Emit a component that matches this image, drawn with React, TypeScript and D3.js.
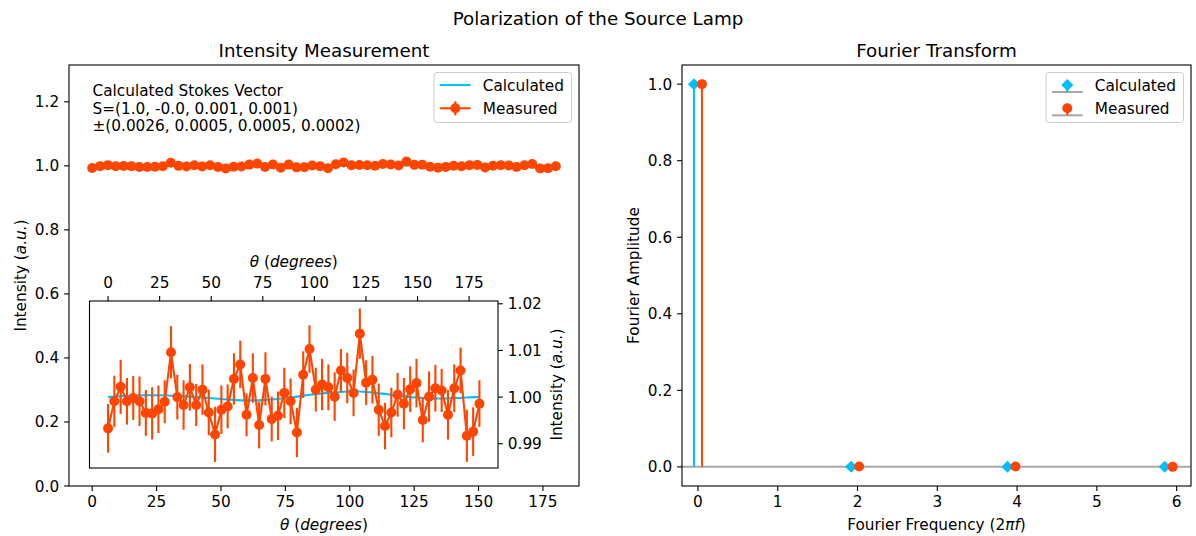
import React from 'react';
import * as d3 from 'd3';

const thetaDeg = [
  0, 3.05, 6.1, 9.15, 12.2, 15.25, 18.31, 21.36, 24.41, 27.46,
  30.51, 33.56, 36.61, 39.66, 42.71, 45.76, 48.81, 51.86, 54.92, 57.97,
  61.02, 64.07, 67.12, 70.17, 73.22, 76.27, 79.32, 82.37, 85.42, 88.47,
  91.53, 94.58, 97.63, 100.68, 103.73, 106.78, 109.83, 112.88, 115.93, 118.98,
  122.03, 125.08, 128.14, 131.19, 134.24, 137.29, 140.34, 143.39, 146.44, 149.49,
  152.54, 155.59, 158.64, 161.69, 164.75, 167.8, 170.85, 173.9, 176.95, 180.0,
];
const measured = [
  0.9933, 0.9991, 1.0022, 0.9991, 0.9998, 0.9991, 0.9966, 0.9965, 0.9974, 0.999,
  1.0096, 1.0, 0.9983, 1.0021, 0.9983, 1.0016, 0.9967, 0.992, 0.9973, 0.998,
  1.0039, 1.007, 0.9962, 1.0041, 0.994, 1.0039, 0.9953, 0.996, 1.0009, 0.9991,
  0.9924, 1.0048, 1.0103, 1.0016, 1.0027, 1.0021, 1.0001, 1.0057, 1.0041, 1.0009,
  1.0136, 1.0031, 1.0037, 0.9973, 0.9938, 0.9967, 1.0005, 0.9986, 1.0017, 1.003,
  0.9951, 1.0001, 1.0019, 1.0014, 0.9962, 1.0019, 1.0057, 0.9917, 0.9926, 0.9986,
];
const measuredErr = [
  0.0052, 0.0055, 0.0058, 0.005, 0.0047, 0.0053, 0.0049, 0.0056, 0.0051, 0.0046,
  0.0056, 0.0048, 0.0053, 0.005, 0.0045, 0.0054, 0.0049, 0.0059, 0.0052, 0.0047,
  0.0055, 0.0051, 0.0046, 0.0053, 0.005, 0.0057, 0.0048, 0.0052, 0.0054, 0.0049,
  0.0053, 0.005, 0.0051, 0.0047, 0.0055, 0.0049, 0.0052, 0.0046, 0.0054, 0.005,
  0.0054, 0.0048, 0.0051, 0.0056, 0.005, 0.0053, 0.0047, 0.0055, 0.0049, 0.0052,
  0.0048, 0.0054, 0.005, 0.0046, 0.0053, 0.0051, 0.0049, 0.0056, 0.0052, 0.005,
];
const calculated = [
  1.0, 1.0001, 1.0002, 1.0003, 1.0003, 1.0004, 1.0004, 1.0004, 1.0004, 1.0004,
  1.0003, 1.0003, 1.0002, 1.0001, 1.0, 0.9999, 0.9998, 0.9997, 0.9996, 0.9995,
  0.9994, 0.9993, 0.9993, 0.9993, 0.9993, 0.9994, 0.9995, 0.9996, 0.9998, 0.9999,
  1.0001, 1.0003, 1.0005, 1.0006, 1.0008, 1.0009, 1.001, 1.0011, 1.0012, 1.0012,
  1.0012, 1.0011, 1.001, 1.0008, 1.0007, 1.0005, 1.0003, 1.0002, 1.0, 0.9999,
  0.9998, 0.9997, 0.9997, 0.9997, 0.9997, 0.9998, 0.9998, 0.9999, 1.0, 1.0,
];
const mainXTicks = [0, 25, 50, 75, 100, 125, 150, 175];
const mainYTicks = [0, 0.2, 0.4, 0.6, 0.8, 1.0, 1.2];
const insetYTicks = [0.99, 1.0, 1.01, 1.02];
const fourierCalcFreq = [-0.05, 1.92, 3.88, 5.85];
const fourierCalcAmp = [1.0, 0.0, 0.0, 0.0];
const fourierMeasFreq = [0.05, 2.02, 3.98, 5.95];
const fourierMeasAmp = [1.0, 0.001, 0.001, 0.0];
const fourierXTicks = [0, 1, 2, 3, 4, 5, 6];
const fourierYTicks = [0, 0.2, 0.4, 0.6, 0.8, 1.0];
const stokesLines = [
  'Calculated Stokes Vector',
  'S=(1.0, -0.0, 0.001, 0.001)',
  '±(0.0026, 0.0005, 0.0005, 0.0002)',
];
const legendLabels = ['Calculated', 'Measured'];

const FONT = "'DejaVu Sans', 'Liberation Sans', sans-serif";
const FS = 15.3;
const TFS = 18.3;
const ORANGE = '#FF4500';
const BLUE = '#00BFFF';
const TICK = 4.9;
const PAD = 4.9;

function Legend({ right, top, kind }: { right: number; top: number; kind: 'line' | 'stem' }) {
  const w = 137.5;
  const h = 50;
  const left = right - w;
  const hx0 = left + 6;
  const hx1 = hx0 + 30.6;
  const hc = (hx0 + hx1) / 2;
  const rows = [top + 12.5, top + 35.8];
  return (
    <g>
      <rect x={left} y={top} width={w} height={h} rx={3} fill="white" fillOpacity={0.8} stroke="#cccccc" strokeWidth={1} />
      {kind === 'line' ? (
        <g>
          <line x1={hx0} x2={hx1} y1={rows[0]} y2={rows[0]} stroke={BLUE} strokeWidth={2.1} />
          <line x1={hx0} x2={hx1} y1={rows[1]} y2={rows[1]} stroke={ORANGE} strokeWidth={2.1} />
          <line x1={hc} x2={hc} y1={rows[1] - 7} y2={rows[1] + 7} stroke={ORANGE} strokeWidth={2.1} />
          <circle cx={hc} cy={rows[1]} r={5} fill={ORANGE} />
        </g>
      ) : (
        <g>
          <line x1={hx0} x2={hx1} y1={rows[0] + 7} y2={rows[0] + 7} stroke="#a8a8a8" strokeWidth={2} />
          <line x1={hc} x2={hc} y1={rows[0] + 7} y2={rows[0]} stroke={BLUE} strokeWidth={2} />
          <path d={`M${hc},${rows[0] - 6}L${hc + 6},${rows[0]}L${hc},${rows[0] + 6}L${hc - 6},${rows[0]}Z`} fill={BLUE} />
          <line x1={hx0} x2={hx1} y1={rows[1] + 7} y2={rows[1] + 7} stroke="#a8a8a8" strokeWidth={2} />
          <line x1={hc} x2={hc} y1={rows[1] + 7} y2={rows[1]} stroke={ORANGE} strokeWidth={2} />
          <circle cx={hc} cy={rows[1]} r={5} fill={ORANGE} />
        </g>
      )}
      {legendLabels.map((l, i) => (
        <text key={l} x={hx1 + 12.2} y={rows[i]} dy="0.36em" fontSize={FS} fontFamily={FONT} fill="#000">{l}</text>
      ))}
    </g>
  );
}

export default function App() {
  const mx = d3.scaleLinear().domain([-9, 189]).range([69, 579]);
  const my = d3.scaleLinear().domain([0, 1.315]).range([486, 65]);
  const ix = d3.scaleLinear().domain([-9, 189]).range([89.5, 498]);
  const iy = d3.scaleLinear().domain([0.9848, 1.0206]).range([468, 301]);
  const fx = d3.scaleLinear().domain([-0.2, 6.18]).range([682, 1191]);
  const fy = d3.scaleLinear().domain([-0.05, 1.05]).range([486, 65]);

  const mainLine = (vals: number[]) =>
    d3.line<number>().x((_, i) => mx(thetaDeg[i])).y((d) => my(d))(vals) || '';
  const insetLine = (vals: number[]) =>
    d3.line<number>().x((_, i) => ix(thetaDeg[i])).y((d) => iy(d))(vals) || '';

  const f1 = d3.format('.1f');
  const f2 = d3.format('.2f');
  const [mL, mR] = mx.range();
  const [mB, mT] = my.range();
  const [iL, iR] = ix.range();
  const [iB, iT] = iy.range();
  const [fL, fR] = fx.range();
  const [fB, fT] = fy.range();

  const diamond = (cx: number, cy: number, s: number) =>
    `M${cx},${cy - s}L${cx + s},${cy}L${cx},${cy + s}L${cx - s},${cy}Z`;

  return (
    <svg width={1196} height={536} style={{ position: 'absolute', left: 0, top: 0, background: '#fff' }} fontFamily={FONT}>
      <rect x={0} y={0} width={1196} height={536} fill="#fff" />
      <text x={598} y={24.5} textAnchor="middle" fontSize={TFS}>Polarization of the Source Lamp</text>

      {/* ===== Left: Intensity Measurement ===== */}
      <text x={(mL + mR) / 2} y={mT - 8.3} textAnchor="middle" fontSize={TFS}>Intensity Measurement</text>
      <path d={mainLine(calculated)} fill="none" stroke={BLUE} strokeWidth={2.1} />
      <g>
        {measured.map((v, i) => (
          <line key={i} x1={mx(thetaDeg[i])} x2={mx(thetaDeg[i])} y1={my(v - measuredErr[i])} y2={my(v + measuredErr[i])} stroke={ORANGE} strokeWidth={2.1} />
        ))}
        <path d={mainLine(measured)} fill="none" stroke={ORANGE} strokeWidth={2.1} />
        {measured.map((v, i) => (
          <circle key={i} cx={mx(thetaDeg[i])} cy={my(v)} r={5} fill={ORANGE} />
        ))}
      </g>
      {stokesLines.map((s, i) => (
        <text key={i} x={92.5} y={90.7 + i * 17.4} dy="0.36em" fontSize={FS}>{s}</text>
      ))}
      <Legend right={571.5} top={72.5} kind="line" />
      <rect x={mL} y={mT} width={mR - mL} height={mB - mT} fill="none" stroke="#000" strokeWidth={1.1} />
      {mainXTicks.map((t) => (
        <g key={t}>
          <line x1={mx(t)} x2={mx(t)} y1={mB} y2={mB + TICK} stroke="#000" strokeWidth={1.1} />
          <text x={mx(t)} y={mB + TICK + PAD} dy="0.76em" textAnchor="middle" fontSize={FS}>{t}</text>
        </g>
      ))}
      {mainYTicks.map((t) => (
        <g key={t}>
          <line x1={mL - TICK} x2={mL} y1={my(t)} y2={my(t)} stroke="#000" strokeWidth={1.1} />
          <text x={mL - TICK - PAD} y={my(t)} dy="0.36em" textAnchor="end" fontSize={FS}>{f1(t)}</text>
        </g>
      ))}
      <text x={(mL + mR) / 2} y={530} textAnchor="middle" fontSize={FS}>
        <tspan fontStyle="italic">θ</tspan> (<tspan fontStyle="italic">degrees</tspan>)
      </text>
      <text transform={`translate(26,${(mT + mB) / 2}) rotate(-90)`} textAnchor="middle" fontSize={FS}>
        Intensity (<tspan fontStyle="italic">a.u.</tspan>)
      </text>

      {/* ===== Inset ===== */}
      <rect x={iL} y={iT} width={iR - iL} height={iB - iT} fill="#fff" stroke="none" />
      <path d={insetLine(calculated)} fill="none" stroke={BLUE} strokeWidth={2.1} />
      {measured.map((v, i) => (
        <line key={i} x1={ix(thetaDeg[i])} x2={ix(thetaDeg[i])} y1={iy(v - measuredErr[i])} y2={iy(v + measuredErr[i])} stroke={ORANGE} strokeWidth={2.1} />
      ))}
      <path d={insetLine(measured)} fill="none" stroke={ORANGE} strokeWidth={2.1} />
      {measured.map((v, i) => (
        <circle key={i} cx={ix(thetaDeg[i])} cy={iy(v)} r={5} fill={ORANGE} />
      ))}
      <rect x={iL} y={iT} width={iR - iL} height={iB - iT} fill="none" stroke="#000" strokeWidth={1.1} />
      {mainXTicks.map((t) => (
        <g key={t}>
          <line x1={ix(t)} x2={ix(t)} y1={iT} y2={iT - TICK} stroke="#000" strokeWidth={1.1} />
          <text x={ix(t)} y={iT - TICK - PAD - 3.6} textAnchor="middle" fontSize={FS}>{t}</text>
        </g>
      ))}
      {insetYTicks.map((t) => (
        <g key={t}>
          <line x1={iR} x2={iR + TICK} y1={iy(t)} y2={iy(t)} stroke="#000" strokeWidth={1.1} />
          <text x={iR + TICK + PAD} y={iy(t)} dy="0.36em" textAnchor="start" fontSize={FS}>{f2(t)}</text>
        </g>
      ))}
      <text x={(iL + iR) / 2} y={267} textAnchor="middle" fontSize={FS}>
        <tspan fontStyle="italic">θ</tspan> (<tspan fontStyle="italic">degrees</tspan>)
      </text>
      <text transform={`translate(562,${(iT + iB) / 2}) rotate(-90)`} textAnchor="middle" fontSize={FS}>
        Intensity (<tspan fontStyle="italic">a.u.</tspan>)
      </text>

      {/* ===== Right: Fourier Transform ===== */}
      <text x={(fL + fR) / 2} y={fT - 8.3} textAnchor="middle" fontSize={TFS}>Fourier Transform</text>
      <line x1={fL} x2={fR} y1={fy(0)} y2={fy(0)} stroke="#a8a8a8" strokeWidth={2} />
      {fourierCalcFreq.map((f, i) => (
        <line key={i} x1={fx(f)} x2={fx(f)} y1={fy(0)} y2={fy(fourierCalcAmp[i])} stroke={BLUE} strokeWidth={2} />
      ))}
      {fourierCalcFreq.map((f, i) => (
        <path key={i} d={diamond(fx(f), fy(fourierCalcAmp[i]), 6)} fill={BLUE} />
      ))}
      {fourierMeasFreq.map((f, i) => (
        <line key={i} x1={fx(f)} x2={fx(f)} y1={fy(0)} y2={fy(fourierMeasAmp[i])} stroke={ORANGE} strokeWidth={2} />
      ))}
      {fourierMeasFreq.map((f, i) => (
        <circle key={i} cx={fx(f)} cy={fy(fourierMeasAmp[i])} r={5} fill={ORANGE} />
      ))}
      <Legend right={fR - 7.5} top={72.5} kind="stem" />
      <rect x={fL} y={fT} width={fR - fL} height={fB - fT} fill="none" stroke="#000" strokeWidth={1.1} />
      {fourierXTicks.map((t) => (
        <g key={t}>
          <line x1={fx(t)} x2={fx(t)} y1={fB} y2={fB + TICK} stroke="#000" strokeWidth={1.1} />
          <text x={fx(t)} y={fB + TICK + PAD} dy="0.76em" textAnchor="middle" fontSize={FS}>{t}</text>
        </g>
      ))}
      {fourierYTicks.map((t) => (
        <g key={t}>
          <line x1={fL - TICK} x2={fL} y1={fy(t)} y2={fy(t)} stroke="#000" strokeWidth={1.1} />
          <text x={fL - TICK - PAD} y={fy(t)} dy="0.36em" textAnchor="end" fontSize={FS}>{f1(t)}</text>
        </g>
      ))}
      <text x={(fL + fR) / 2} y={530} textAnchor="middle" fontSize={FS}>
        Fourier Frequency (2<tspan fontStyle="italic">πf</tspan>)
      </text>
      <text transform={`translate(639,${(fT + fB) / 2}) rotate(-90)`} textAnchor="middle" fontSize={FS}>
        Fourier Amplitude
      </text>
    </svg>
  );
}
